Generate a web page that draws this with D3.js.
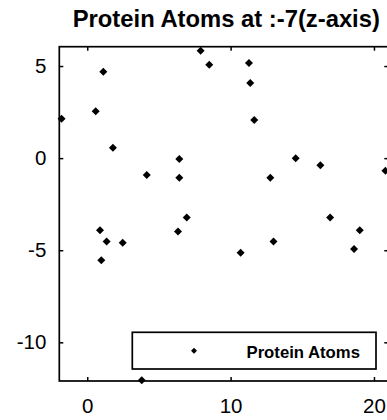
<!DOCTYPE html>
<html>
<head>
<meta charset="utf-8">
<script src="https://cdn.jsdelivr.net/npm/d3@7"></script>
<style>
  html, body { margin: 0; padding: 0; background: #fff; overflow: hidden; }
  svg { display: block; }
  text { font-family: "Liberation Sans", Arial, Helvetica, sans-serif; fill: #000; }
</style>
</head>
<body>
<svg id="chart" width="387" height="420"></svg>
<script>
const titleText = "Protein Atoms at :-7(z-axis)";
const seriesName = "Protein Atoms";
const xValues = [-1.79, 0.59, 1.12, 1.79, 0.89, 0.98, 1.35, 2.47, 4.15, 6.42, 6.42, 6.33, 6.94, 7.91,
                 8.51, 11.28, 11.37, 11.65, 12.77, 14.54, 16.26, 16.94, 10.70, 12.99, 18.61, 19.01, 20.80, 3.80];
const yValues = [2.14, 2.54, 4.69, 0.56, -3.92, -5.54, -4.53, -4.60, -0.92, -0.05, -1.07, -3.99, -3.22, 5.83,
                 5.07, 5.16, 4.08, 2.07, -1.07, 0.00, -0.38, -3.22, -5.14, -4.53, -4.93, -3.92, -0.69, -12.06];
const xTicks = [0, 10, 20];
const yTicks = [5, 0, -5, -10];
const xDomain = [-1.95, 21];
const yDomain = [-12.1, 6.05];

const svg = d3.select("#chart");
const L = 59.3, R = 388.3, T = 46.7, B = 381;
const x = d3.scaleLinear().domain(xDomain).range([L, R]);
const y = d3.scaleLinear().domain(yDomain).range([B, T]);
const tickLen = 4;

// frame
svg.append("rect").attr("x", L).attr("y", T).attr("width", R - L).attr("height", B - T)
  .attr("fill", "none").attr("stroke", "#000").attr("stroke-width", 1.7);

// axes via d3 (inward ticks)
const fmt = d => d3.format("d")(d).replace("−", "-");
const gx = svg.append("g").attr("transform", `translate(0,${B})`)
  .call(d3.axisBottom(x).tickValues(xTicks).tickSize(-tickLen).tickPadding(17).tickFormat(fmt));
const gxt = svg.append("g").attr("transform", `translate(0,${T})`)
  .call(d3.axisTop(x).tickValues(xTicks).tickSize(-tickLen).tickFormat(""));
const gy = svg.append("g").attr("transform", `translate(${L},0)`)
  .call(d3.axisLeft(y).tickValues(yTicks).tickSize(-tickLen).tickPadding(13).tickFormat(fmt));
const gyr = svg.append("g").attr("transform", `translate(${R},0)`)
  .call(d3.axisRight(y).tickValues(yTicks).tickSize(-tickLen).tickFormat(""));
[gx, gxt, gy, gyr].forEach(g => {
  g.select(".domain").remove();
  g.selectAll(".tick line").attr("stroke", "#000").attr("stroke-width", 1.5);
  g.selectAll(".tick text").attr("font-size", "20.5px").attr("fill", "#000")
    .attr("font-family", "'Liberation Sans', Arial, sans-serif");
});

// title
svg.append("text").attr("x", (L + R) / 2 + 2.5).attr("y", 27).attr("text-anchor", "middle")
  .attr("font-size", "23.8px").attr("font-weight", "bold").text(titleText);

// markers
const diamond = d3.symbol().type(d3.symbolSquare).size(32);
svg.append("g").selectAll("path").data(xValues.map((v, i) => [v, yValues[i]])).join("path")
  .attr("d", diamond)
  .attr("transform", d => `translate(${x(d[0])},${y(d[1])}) rotate(45)`)
  .attr("fill", "#000");

// legend
const lg = svg.append("g");
lg.append("rect").attr("x", 132.3).attr("y", 332.3).attr("width", 243.7).attr("height", 36.7)
  .attr("fill", "#fff").attr("stroke", "#000").attr("stroke-width", 1.7);
lg.append("path").attr("d", d3.symbol().type(d3.symbolSquare).size(18))
  .attr("transform", "translate(194,350.7) rotate(45)").attr("fill", "#000");
lg.append("text").attr("x", 246.5).attr("y", 358.3).attr("font-size", "16.7px").attr("font-weight", "bold")
  .text(seriesName);
</script>
</body>
</html>
